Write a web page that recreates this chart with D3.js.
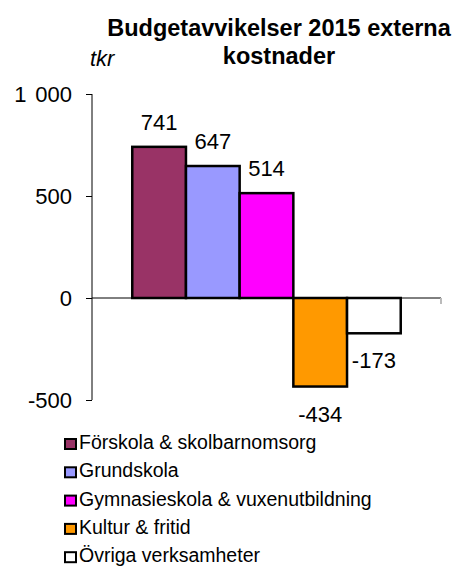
<!DOCTYPE html>
<html>
<head>
<meta charset="utf-8">
<script src="https://cdn.jsdelivr.net/npm/d3@7"></script>
<style>
  html, body { margin: 0; padding: 0; background: #fff; }
  svg { display: block; }
  svg text { font-family: "Liberation Sans", Arial, sans-serif; }
</style>
</head>
<body>
<svg id="chart" width="456" height="568"></svg>
<script>
// Budget deviations 2015, external costs (tkr)
const series = [
  "Förskola & skolbarnomsorg",
  "Grundskola",
  "Gymnasieskola & vuxenutbildning",
  "Kultur & fritid",
  "Övriga verksamheter"
];
const values = [741, 647, 514, -434, -173];
const colors = ["#993366", "#9999FF", "#FF00FF", "#FF9900", "#FFFFFF"];
const yTicks = [-500, 0, 500, 1000];
const titleLines = ["Budgetavvikelser 2015 externa", "kostnader"];
const unitLabel = "tkr";

const FONT = "'Liberation Sans', Arial, sans-serif";
const svg = d3.select("#chart");

const plot = { left: 92, right: 441, top: 94, bottom: 400 };

const x = d3.scaleBand()
  .domain(series)
  .range([plot.left, plot.right])
  .paddingInner(0)
  .paddingOuter(0.75);

const y = d3.scaleLinear()
  .domain([-500, 1000])
  .range([plot.bottom, plot.top]);

// thousands separated by a space, e.g. "1 000"
const fmt = d3.formatLocale({ decimal: ",", thousands: "\u2009\u2009", grouping: [3], currency: ["", ""], minus: "-" }).format(",d");

// Title
svg.append("text")
  .style("font-family", FONT)
  .attr("x", 279)
  .attr("y", 36)
  .attr("text-anchor", "middle")
  .attr("font-size", 23.5)
  .attr("font-weight", "bold")
  .selectAll("tspan")
  .data(titleLines)
  .join("tspan")
  .attr("x", 279)
  .attr("dy", (d, i) => i === 0 ? 0 : 27.5)
  .text(d => d);

// Unit label
svg.append("text")
  .style("font-family", FONT)
  .attr("x", 90)
  .attr("y", 66)
  .attr("font-size", 22)
  .attr("font-style", "italic")
  .text(unitLabel);

// Y axis
const yAxis = svg.append("g")
  .attr("transform", `translate(${plot.left},0)`)
  .call(d3.axisLeft(y).tickValues(yTicks).tickSize(6).tickPadding(14).tickFormat(fmt));
yAxis.select(".domain").attr("stroke", "#000").attr("d", `M0,${plot.top}V${plot.bottom}`);
yAxis.selectAll(".tick line").attr("stroke", "#000");
yAxis.selectAll(".tick text")
  .style("font-family", FONT)
  .attr("font-size", 22)
  .attr("fill", "#000");

// Bars
svg.append("g")
  .selectAll("rect")
  .data(series)
  .join("rect")
  .attr("x", d => x(d))
  .attr("width", x.bandwidth())
  .attr("y", (d, i) => y(Math.max(0, values[i])))
  .attr("height", (d, i) => Math.abs(y(values[i]) - y(0)))
  .attr("fill", (d, i) => colors[i])
  .attr("stroke", "#000")
  .attr("stroke-width", 2.5);

// Category axis at zero
svg.append("line")
  .attr("x1", plot.left).attr("x2", plot.right)
  .attr("y1", y(0)).attr("y2", y(0))
  .attr("stroke", "#000").attr("stroke-width", 1);
svg.append("line")
  .attr("x1", plot.right).attr("x2", plot.right)
  .attr("y1", y(0)).attr("y2", y(0) + 6)
  .attr("stroke", "#bbb").attr("stroke-width", 2);

// Value labels
svg.append("g")
  .selectAll("text")
  .data(series)
  .join("text")
  .style("font-family", FONT)
  .attr("x", d => x(d) + x.bandwidth() / 2)
  .attr("y", (d, i) => values[i] >= 0 ? y(values[i]) - 17 : y(values[i]) + 35)
  .attr("text-anchor", "middle")
  .attr("font-size", 22)
  .text((d, i) => values[i]);

// Legend
const legend = svg.append("g")
  .selectAll("g")
  .data(series)
  .join("g")
  .attr("transform", (d, i) => `translate(65,${449 + i * 28.3})`);
legend.append("rect")
  .attr("x", 0).attr("y", -10)
  .attr("width", 11).attr("height", 10)
  .attr("fill", (d, i) => colors[i])
  .attr("stroke", "#000")
  .attr("stroke-width", 2);
legend.append("text")
  .style("font-family", FONT)
  .attr("x", 14)
  .attr("y", 0)
  .attr("font-size", 19.5)
  .text(d => d);
</script>
</body>
</html>
